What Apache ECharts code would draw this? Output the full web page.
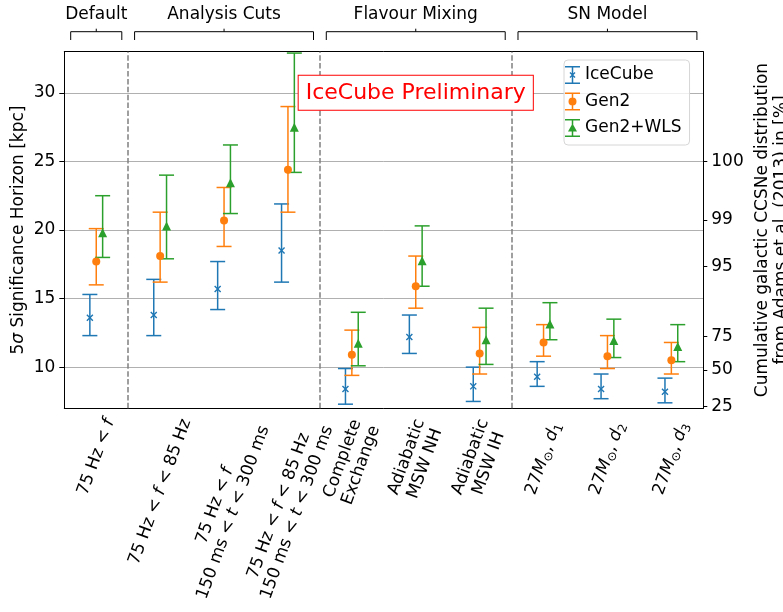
<!DOCTYPE html>
<html>
<head>
<meta charset="utf-8">
<script src="https://cdn.jsdelivr.net/npm/echarts@6/dist/echarts.min.js"></script>
<style>
  html, body { margin: 0; background: #fff; }
  #chart { width: 783px; height: 612px; }
</style>
</head>
<body>
<div id="chart"></div>
<script>
// categories (rich markup: i = italic math, sub = subscript)
const categories = [
  '75 Hz < {i|f}',
  '75 Hz < {i|f} < 85 Hz',
  '75 Hz < {i|f}\n150 ms < {i|t} < 300 ms',
  '75 Hz < {i|f} < 85 Hz\n150 ms < {i|t} < 300 ms',
  'Complete\nExchange',
  'Adiabatic\nMSW NH',
  'Adiabatic\nMSW IH',
  '27{i|M}{sub|⊙}, {i|d}{sub|1}',
  '27{i|M}{sub|⊙}, {i|d}{sub|2}',
  '27{i|M}{sub|⊙}, {i|d}{sub|3}'
]

const groupNames = ['Default', 'Analysis Cuts', 'Flavour Mixing', 'SN Model']
const groupFirst = [0, 1, 4, 7]
const groupLast = [0, 3, 6, 9]

// 5 sigma horizon [kpc]: central value, lower and upper end of the error bar
const icecube     = [13.6, 13.8, 15.7, 18.5,  8.4, 12.2,  8.6,  9.3,  8.4,  8.2]
const icecubeLow  = [12.3, 12.3, 14.2, 16.2,  7.3, 11.0,  7.5,  8.6,  7.7,  7.4]
const icecubeHigh = [15.3, 16.4, 17.7, 21.9,  9.9, 13.8, 10.0, 10.4,  9.5,  9.2]

const gen2     = [17.7, 18.1, 20.7, 24.4, 10.9, 15.9, 11.0, 11.8, 10.8, 10.5]
const gen2Low  = [16.0, 16.2, 18.8, 21.3,  9.4, 14.3,  9.5, 10.8,  9.9,  9.5]
const gen2High = [20.1, 21.3, 23.1, 29.0, 12.7, 18.1, 12.9, 13.1, 12.3, 11.8]

const wls     = [19.8, 20.3, 23.45, 27.5, 11.75, 17.75, 12.0, 13.15, 11.95, 11.5]
const wlsLow  = [18.0, 17.9, 21.2,  24.2, 10.1,  15.9,  10.2, 12.0,  10.7,  10.4]
const wlsHigh = [22.5, 24.0, 26.2,  32.9, 14.0,  20.3,  14.3, 14.7,  13.5,  13.1]

const leftTicks = [10, 15, 20, 25, 30]
// right axis: cumulative CCSNe fraction [%] placed at the matching horizon [kpc]
const rightTickPos = [7.13, 9.8, 12.23, 17.33, 20.73, 25.0]
const rightTickLabels = ['25', '50', '75', '95', '99', '100']

const FONT = 'DejaVu Sans'
const FS = 17
const LINE_H = 19.5
const ROT = 70 * Math.PI / 180

const X_MARK = 'path://M1.4,0L10,8.6L8.6,10L0,1.4ZM8.6,0L10,1.4L1.4,10L0,8.6Z'
const CAPS = 'M0,0H15V1.5H0ZM0,16.5H15V18H0ZM6.75,1.5H8.25V16.5H6.75Z'
const ICON_X = 'path://' + CAPS + 'M5.4,6L10.5,11.1L9.6,12L4.5,6.9ZM9.6,6L10.5,6.9L5.4,12L4.5,11.1Z'
const ICON_O = 'path://' + CAPS + 'M3.5,9A4,4,0,1,1,11.5,9A4,4,0,1,1,3.5,9Z'
const ICON_T = 'path://' + CAPS + 'M7.5,4.5L12,12.5L3,12.5Z'

const sets = [
  { name: 'IceCube', color: '#1f77b4', val: icecube, lo: icecubeLow, hi: icecubeHigh, off: -0.1, symbol: X_MARK, size: 7, icon: ICON_X },
  { name: 'Gen2', color: '#ff7f0e', val: gen2, lo: gen2Low, hi: gen2High, off: 0, symbol: 'circle', size: 8, icon: ICON_O },
  { name: 'Gen2+WLS', color: '#2ca02c', val: wls, lo: wlsLow, hi: wlsHigh, off: 0.1, symbol: 'triangle', size: 9, icon: ICON_T }
]

const separators = groupFirst.slice(1).map(i => i - 0.5)
const CAP = 7.5

function renderErr(color) {
  return function (params, api) {
    const lo = api.coord([api.value(0), api.value(2)])
    const hi = api.coord([api.value(0), api.value(3)])
    const style = { stroke: color, lineWidth: 1.5 }
    return {
      type: 'group',
      children: [
        { type: 'line', shape: { x1: lo[0], y1: lo[1], x2: hi[0], y2: hi[1] }, style },
        { type: 'line', shape: { x1: lo[0] - CAP, y1: lo[1], x2: lo[0] + CAP, y2: lo[1] }, style },
        { type: 'line', shape: { x1: hi[0] - CAP, y1: hi[1], x2: hi[0] + CAP, y2: hi[1] }, style }
      ]
    }
  }
}

const series = []
sets.forEach((s, k) => {
  series.push({
    name: s.name, type: 'custom', xAxisIndex: 1, yAxisIndex: 0, z: 2,
    itemStyle: { color: s.color },
    renderItem: renderErr(s.color),
    encode: { x: 0, y: [1, 2, 3] },
    data: s.val.map((v, i) => [i + s.off, v, s.lo[i], s.hi[i]]),
    markLine: k === 0 ? {
      silent: true, symbol: ['none', 'none'], label: { show: false },
      lineStyle: { color: '#808080', width: 1.5, type: [5.5, 2.4] },
      data: separators.map(x => ({ xAxis: x }))
    } : undefined
  })
  series.push({
    name: s.name, type: 'scatter', xAxisIndex: 1, yAxisIndex: 0, z: 3,
    symbol: s.symbol, symbolSize: s.size,
    itemStyle: { color: s.color, opacity: 1 },
    data: s.val.map((v, i) => [i + s.off, v])
  })
})

const axisLineStyle = { show: true, onZero: false, lineStyle: { color: '#000', width: 1 } }
const richText = {
  i: { fontFamily: FONT, fontSize: FS, fontStyle: 'italic', fill: '#000', color: '#000' },
  sub: { fontFamily: FONT, fontSize: 12, fill: '#000', color: '#000', padding: [9, 0, 0, 0] }
}

const chart = echarts.init(document.getElementById('chart'))
chart.setOption({
  animation: false,
  textStyle: { fontFamily: FONT, color: '#000' },
  grid: { left: 64.3, right: 79.7, top: 51.7, bottom: 203.7, outerBoundsMode: 'none' },
  legend: {
    orient: 'vertical', left: 564, top: 60, padding: [6, 8, 8, 1],
    itemWidth: 15, itemHeight: 18, itemGap: 8.5, selectedMode: false,
    backgroundColor: 'rgba(255,255,255,0.8)', borderColor: '#d6d6d6', borderWidth: 1, borderRadius: 4,
    textStyle: { fontFamily: FONT, fontSize: FS, color: '#000' },
    data: sets.map(s => ({ name: s.name, icon: s.icon, itemStyle: { color: s.color, borderWidth: 0 } }))
  },
  xAxis: [
    {
      type: 'category', position: 'bottom', boundaryGap: true,
      data: categories,
      axisLine: axisLineStyle,
      axisTick: { alignWithLabel: true, length: 5, lineStyle: { color: '#000' } },
      axisLabel: { show: false, interval: 0 },
      splitLine: { show: false }
    },
    {
      type: 'value', position: 'top', min: -0.5, max: 9.5,
      axisLine: axisLineStyle, axisTick: { show: false }, axisLabel: { show: false }, splitLine: { show: false }
    }
  ],
  yAxis: [
    {
      type: 'value', position: 'left', min: 7, max: 33,
      name: '5{i|σ} Significance Horizon [kpc]', nameLocation: 'middle', nameGap: 37, nameMoveOverlap: false,
      nameTextStyle: { fontFamily: FONT, fontSize: FS, color: '#000', rich: richText },
      axisLine: axisLineStyle,
      axisTick: { show: true, length: 5, customValues: leftTicks, lineStyle: { color: '#000' } },
      axisLabel: { customValues: leftTicks, margin: 9, fontFamily: FONT, fontSize: FS, color: '#000' },
      splitLine: { show: true, lineStyle: { color: '#b0b0b0', width: 1 } }
    },
    {
      type: 'value', position: 'right', min: 7, max: 33,
      name: 'Cumulative galactic CCSNe distribution\nfrom Adams et al. (2013) in [%]',
      nameLocation: 'middle', nameRotate: 90, nameGap: 50, nameMoveOverlap: false,
      nameTextStyle: { fontFamily: FONT, fontSize: FS, color: '#000', lineHeight: 19, align: 'center' },
      axisLine: axisLineStyle,
      axisTick: { show: true, length: 4, customValues: rightTickPos, lineStyle: { color: '#000' } },
      axisLabel: {
        customValues: rightTickPos, margin: 8, fontFamily: FONT, fontSize: FS, color: '#000',
        formatter: v => rightTickLabels[rightTickPos.findIndex(p => Math.abs(p - v) < 1e-6)]
      },
      splitLine: { show: false }
    }
  ],
  series
})

function px(x, y) { return chart.convertToPixel({ xAxisIndex: 1, yAxisIndex: 0 }, [x, y]) }
const graphics = []

// rotated category labels, bounding box centred under each tick (matplotlib style)
const measure = document.createElement('canvas').getContext('2d')
measure.font = FS + 'px "' + FONT + '"'
const axisY = px(0, 7)[1]
categories.forEach((text, i) => {
  const lines = text.replace(/\{\w+\|([^}]*)\}/g, '$1').split('\n')
  const w = Math.max(...lines.map(l => measure.measureText(l).width))
  const h = lines.length * LINE_H
  const halfBox = (Math.sin(ROT) * w + Math.cos(ROT) * h) / 2
  graphics.push({
    type: 'text', x: px(i, 7)[0], y: axisY + 8 + halfBox, rotation: ROT,
    style: {
      text, fill: '#000', fontFamily: FONT, fontSize: FS, lineHeight: LINE_H,
      align: 'center', verticalAlign: 'middle', rich: richText
    }
  })
})

// group brackets above the plot and the preliminary label
groupNames.forEach((g, k) => {
  const x0 = px(groupFirst[k] - 0.4, 30)[0]
  const x1 = px(groupLast[k] + 0.4, 30)[0]
  const xm = (x0 + x1) / 2
  const lineStyle = { stroke: '#000', lineWidth: 1, fill: null }
  graphics.push({ type: 'polyline', shape: { points: [[x0, 40], [x0, 31.7], [x1, 31.7], [x1, 40]] }, style: lineStyle })
  graphics.push({ type: 'line', shape: { x1: xm, y1: 28.7, x2: xm, y2: 31.7 }, style: lineStyle })
  graphics.push({
    type: 'text', x: xm, y: 14.5,
    style: { text: g, fill: '#000', fontFamily: FONT, fontSize: FS, align: 'center', verticalAlign: 'middle' }
  })
})
const tag = px(5, 30)
graphics.push({
  type: 'text', x: tag[0], y: tag[1], z: 10,
  style: {
    text: 'IceCube Preliminary', fill: '#ff0000', fontFamily: FONT, fontSize: 22,
    align: 'center', verticalAlign: 'middle',
    backgroundColor: '#fff', borderColor: '#ff0000', borderWidth: 1, padding: [6, 7]
  }
})
chart.setOption({ graphic: graphics })
</script>
</body>
</html>
